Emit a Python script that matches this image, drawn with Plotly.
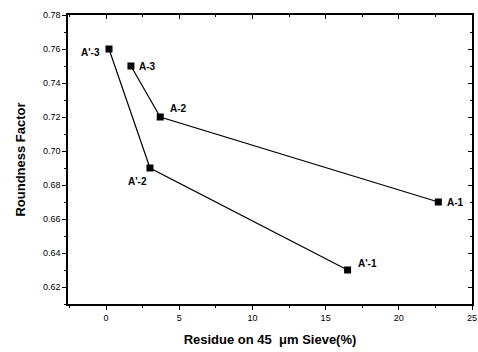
import plotly.graph_objects as go

a_labels = ["A-3", "A-2", "A-1"]
a_x = [1.7, 3.7, 22.7]
a_y = [0.75, 0.72, 0.67]
ap_labels = ["A'-3", "A'-2", "A'-1"]
ap_x = [0.2, 3.0, 16.5]
ap_y = [0.76, 0.69, 0.63]

x_ticks = [0, 5, 10, 15, 20, 25]
y_ticks = [0.62, 0.64, 0.66, 0.68, 0.70, 0.72, 0.74, 0.76, 0.78]

fig = go.Figure()
for xs, ys in [(a_x, a_y), (ap_x, ap_y)]:
    fig.add_trace(go.Scatter(x=xs, y=ys, mode="lines+markers",
                             line=dict(color="black", width=1.2),
                             marker=dict(symbol="square", size=7, color="black"),
                             showlegend=False, hoverinfo="skip"))
# invisible trace to anchor mirrored axes
fig.add_trace(go.Scatter(x=[a_x[0]], y=[a_y[0]], xaxis="x2", yaxis="y2",
                         mode="markers", marker=dict(opacity=0), showlegend=False,
                         hoverinfo="skip"))

lab_font = dict(family="Liberation Sans, Arial", size=10, color="black")
offsets = {
    "A-3": (6, 0, "left"), "A-2": (8, -9, "left"), "A-1": (7, 0, "left"),
    "A'-3": (-7, 3, "right"), "A'-2": (-1, 13, "right"), "A'-1": (8, -7, "left"),
}
for lbls, xs, ys in [(a_labels, a_x, a_y), (ap_labels, ap_x, ap_y)]:
    for l, x, y in zip(lbls, xs, ys):
        dx, dy, anc = offsets[l]
        fig.add_annotation(x=x, y=y, text="<b>%s</b>" % l, showarrow=False,
                           xshift=dx, yshift=-dy, xanchor=anc, yanchor="middle",
                           font=lab_font)

xr = [-2.6, 25.0]
yr = [0.61, 0.78]
axis_common = dict(showgrid=False, zeroline=False, showline=True, linecolor="black",
                   linewidth=1.5, tickcolor="black", ticklen=4, tickwidth=1,
                   automargin=False)
tick_font = dict(family="Liberation Sans, Arial", size=9, color="black")
fig.update_layout(
    width=478, height=352,
    margin=dict(l=68, r=6, t=15, b=48),
    paper_bgcolor="white", plot_bgcolor="white",
    xaxis=dict(range=xr, tickvals=x_ticks, ticks="outside", tickfont=tick_font,
               minor=dict(dtick=2.5, ticks="outside", ticklen=2, tickcolor="black"),
               title=dict(text="<b>Residue on 45  μm Sieve(%)</b>",
                          font=dict(family="Liberation Sans, Arial", size=13, color="black"),
                          standoff=13),
               **axis_common),
    yaxis=dict(range=yr, tickvals=y_ticks, ticktext=["%.2f" % v for v in y_ticks],
               ticks="outside", tickfont=tick_font,
               minor=dict(dtick=0.01, ticks="outside", ticklen=2, tickcolor="black"),
               title=dict(text="<b>Roundness Factor</b>",
                          font=dict(family="Liberation Sans, Arial", size=13, color="black"),
                          standoff=14),
               **axis_common),
    xaxis2=dict(range=xr, overlaying="x", side="top", tickvals=x_ticks, ticks="inside",
                showticklabels=False, anchor="y2",
                minor=dict(dtick=2.5, ticks="inside", ticklen=2, tickcolor="black"),
                **axis_common),
    yaxis2=dict(range=yr, overlaying="y", side="right", tickvals=y_ticks, ticks="inside",
                showticklabels=False, anchor="x2",
                minor=dict(dtick=0.01, ticks="inside", ticklen=2, tickcolor="black"),
                **axis_common),
)
fig.write_html("out.html")
